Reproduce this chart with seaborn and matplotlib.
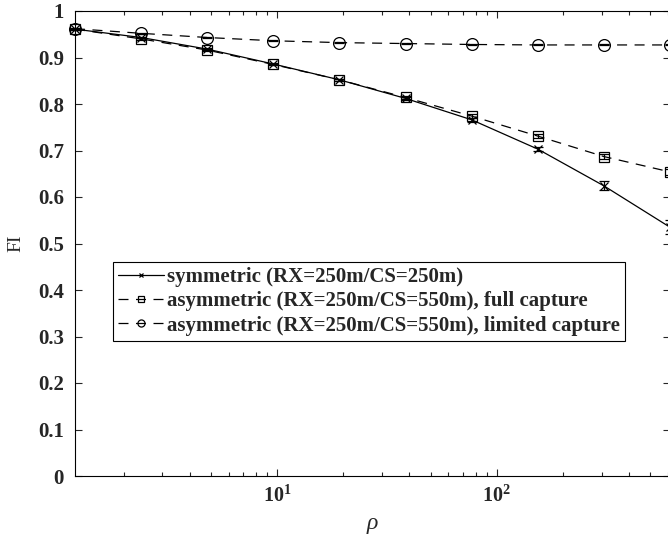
import numpy as np
import pandas as pd
import matplotlib
matplotlib.use("Agg")
import matplotlib.pyplot as plt
import seaborn as sns
from matplotlib.ticker import FixedLocator, FuncFormatter, LogLocator, NullFormatter

rho = [1.2, 2.4, 4.8, 9.6, 19.2, 38.4, 76.8, 153.6, 307.2, 614.4]
fi_sym = [0.961, 0.943, 0.918, 0.886, 0.852, 0.812, 0.766, 0.703, 0.624, 0.535]
err_sym = [0.001, 0.002, 0.002, 0.002, 0.002, 0.003, 0.004, 0.005, 0.010, 0.015]
fi_full = [0.961, 0.940, 0.916, 0.885, 0.852, 0.814, 0.774, 0.731, 0.687, 0.654]
err_full = [0.001, 0.002, 0.002, 0.002, 0.002, 0.003, 0.004, 0.004, 0.005, 0.006]
fi_lim = [0.962, 0.952, 0.943, 0.936, 0.932, 0.930, 0.928, 0.927, 0.927, 0.927]
err_lim = [0.001, 0.001, 0.001, 0.001, 0.001, 0.001, 0.001, 0.001, 0.001, 0.001]

labels = ["symmetric (RX=250m/CS=250m)",
          "asymmetric (RX=250m/CS=550m), full capture",
          "asymmetric (RX=250m/CS=550m), limited capture"]
yticks = [0, 0.1, 0.2, 0.3, 0.4, 0.5, 0.6, 0.7, 0.8, 0.9, 1]
xticks = [10, 100]

sns.set_theme(style="ticks")
plt.rcParams["font.family"] = ["Liberation Serif", "DejaVu Serif"]
plt.rcParams["mathtext.fontset"] = "custom"
plt.rcParams["mathtext.rm"] = "Liberation Serif"
plt.rcParams["mathtext.bf"] = "Liberation Serif:bold"
plt.rcParams["mathtext.it"] = "Liberation Serif:italic"

fig = plt.figure(figsize=(6.68, 5.46), dpi=100)
ax = fig.add_axes([75 / 668, 1 - 476 / 546, 1 - 75 / 668 + 0.003, (476 - 11) / 546])

df = pd.DataFrame({"rho": rho * 3,
                   "FI": fi_sym + fi_full + fi_lim,
                   "series": [labels[0]] * 10 + [labels[1]] * 10 + [labels[2]] * 10})

styles = [dict(marker="x", ls="-", ms=5.5),
          dict(marker="s", ls=(0, (8, 6)), ms=6.5),
          dict(marker="o", ls=(0, (8, 6)), ms=8.5)]
errs = [err_sym, err_full, err_lim]
vals = [fi_sym, fi_full, fi_lim]

for lab, st, er, v in zip(labels, styles, errs, vals):
    sub = df[df["series"] == lab]
    sns.lineplot(data=sub, x="rho", y="FI", ax=ax, color="black", lw=0.9,
                 linestyle=st["ls"], marker=st["marker"], markersize=st["ms"],
                 markerfacecolor="none", markeredgecolor="black",
                 markeredgewidth=0.9, label=lab, clip_on=False, zorder=3)
    ax.errorbar(rho, v, yerr=er, fmt="none", ecolor="black", elinewidth=0.9,
                capsize=3.5, capthick=0.9, clip_on=False, zorder=3)

ax.set_xscale("log")
ax.set_xlim(1.2, 614.4)
ax.set_ylim(0, 1)
ax.xaxis.set_major_locator(FixedLocator(xticks))
ax.xaxis.set_major_formatter(FuncFormatter(lambda v, p: r"$\mathbf{10^{%d}}$" % round(np.log10(v))))
ax.xaxis.set_minor_locator(LogLocator(base=10, subs=np.arange(2, 10)))
ax.xaxis.set_minor_formatter(NullFormatter())
ax.set_yticks(yticks)
ax.yaxis.set_major_formatter(FuncFormatter(lambda v, p: f"{v:g}"))
ax.tick_params(which="both", direction="in", top=True, right=True, width=0.8)
ax.tick_params(axis="y", labelsize=15, pad=8)
ax.tick_params(axis="x", labelsize=14.5, pad=7)
ax.tick_params(which="major", length=5)
ax.tick_params(which="minor", length=3)
for t in ax.get_yticklabels():
    t.set_fontweight("bold")
for s in ax.spines.values():
    s.set_linewidth(0.8)
    s.set_color("black")

ax.set_xlabel(r"$\it{\rho}$", fontsize=17, labelpad=6)
ax.set_ylabel("FI", fontsize=14, fontweight="normal", labelpad=10)

leg = ax.legend(loc="upper left", bbox_to_anchor=((113 - 75) / 593, 1 - (262 - 11) / 465),
                frameon=True, fancybox=False, edgecolor="black", framealpha=1,
                prop={"family": "Liberation Serif", "weight": "bold", "size": 15},
                handlelength=2.2, handletextpad=0.15, borderpad=0.25, labelspacing=0.2,
                borderaxespad=0, markerscale=0.6)
leg.get_frame().set_linewidth(0.8)

fig.savefig("out.png", dpi=100)
